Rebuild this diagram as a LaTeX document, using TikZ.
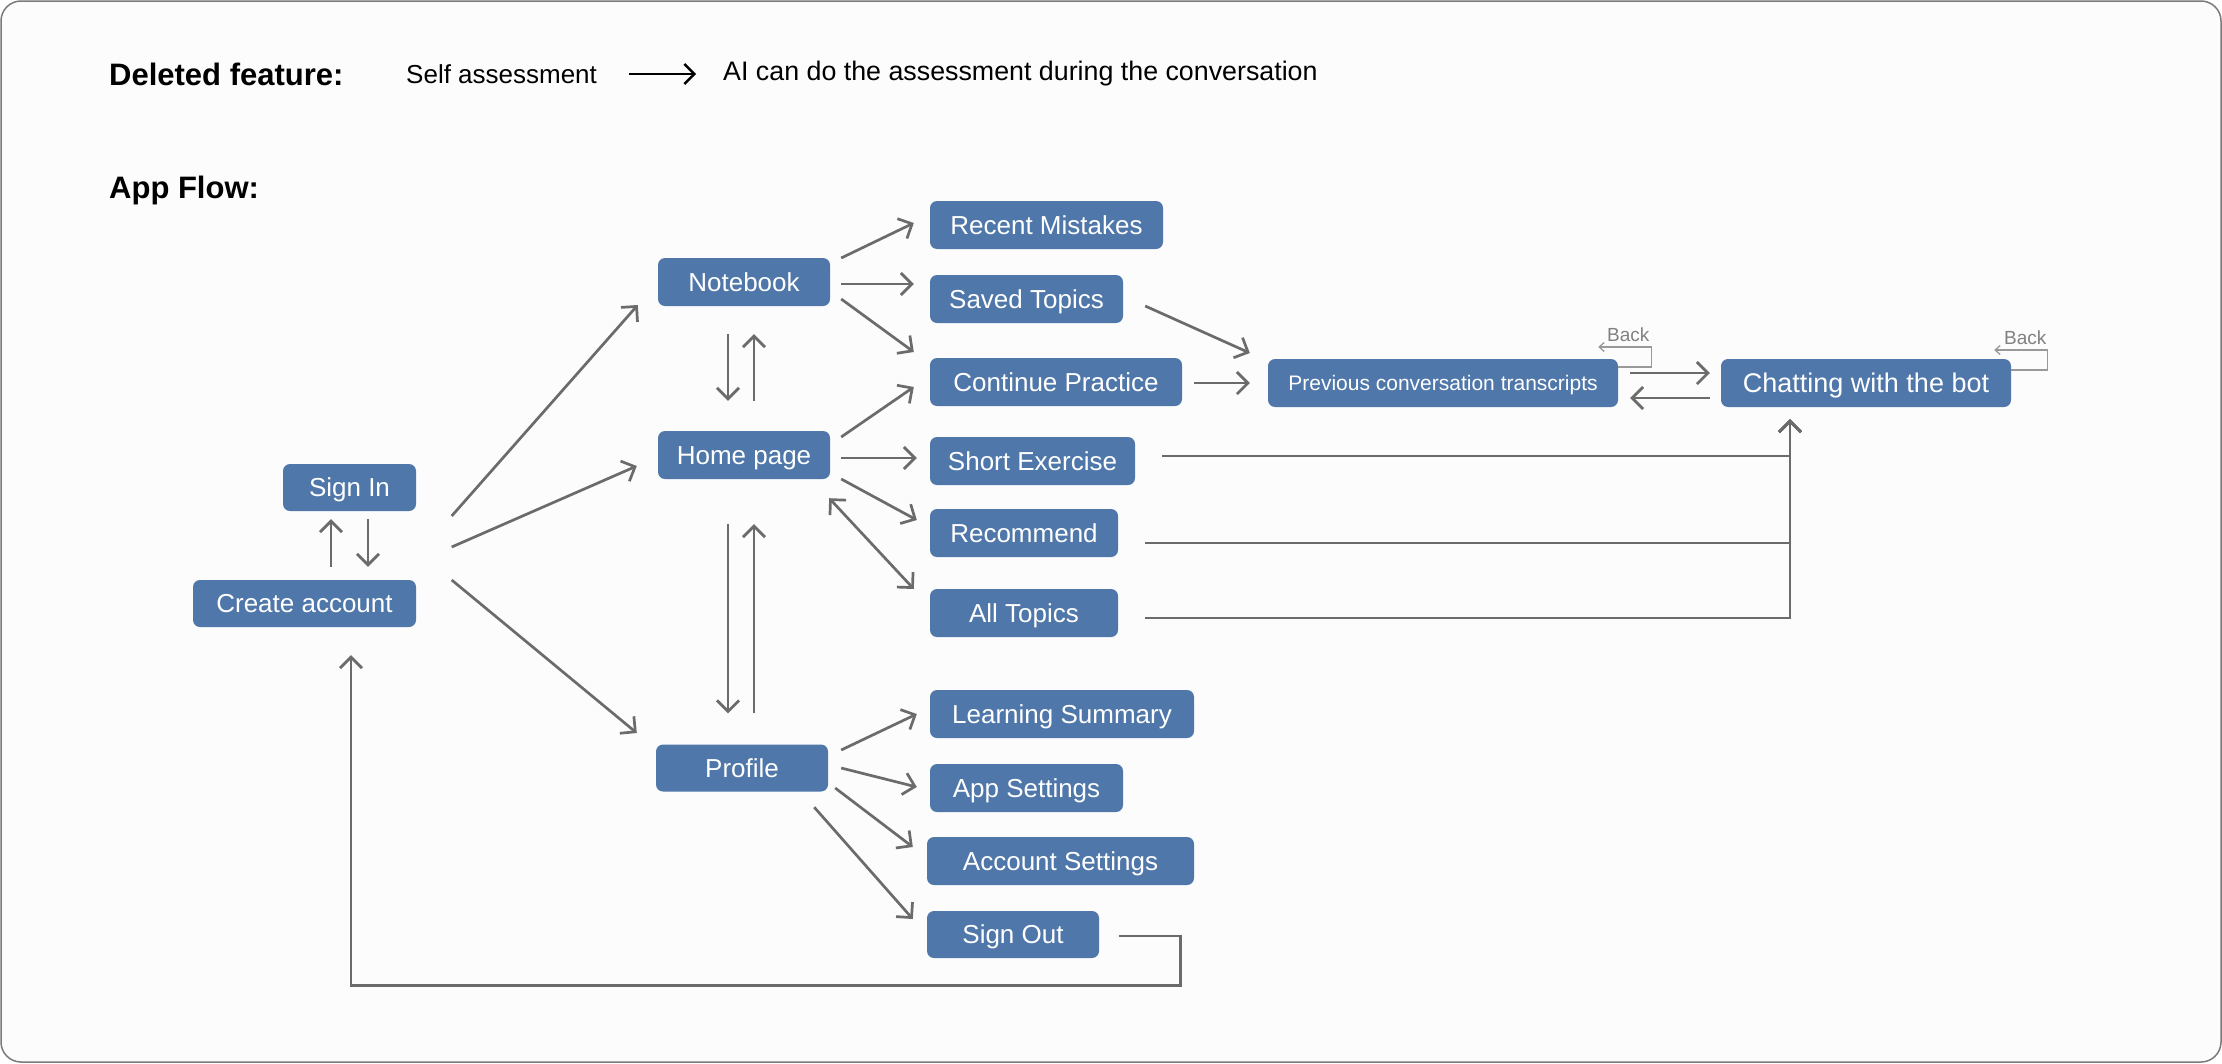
\documentclass[tikz,border=0pt]{standalone}
\usepackage{fontspec}
\setmainfont{Liberation Sans}
\usetikzlibrary{arrows.meta,calc}
\definecolor{boxblue}{HTML}{4F77A9}
\definecolor{linegray}{HTML}{6B6B6B}
\definecolor{backgray}{HTML}{999999}
\definecolor{framegray}{HTML}{7A7A7A}
\begin{document}
\begin{tikzpicture}[x=1pt,y=-1pt,
  box/.style={fill=boxblue, rounded corners=7pt, text=white, font=\fontsize{26}{30}\selectfont, minimum height=48pt, inner sep=0pt, text height=18.5pt, text depth=0pt},
  conn/.style={draw=linegray, line width=2.7pt, -{Straight Barb[length=11pt,width=22pt]}},
  dconn/.style={draw=linegray, line width=2.7pt, {Straight Barb[length=11pt,width=22pt]}-{Straight Barb[length=11pt,width=22pt]}},
  backline/.style={draw=backgray, line width=1.3pt, -{Straight Barb[length=5pt,width=9pt]}},
  backtext/.style={text=linegray!85, font=\fontsize{19}{22}\selectfont, inner sep=0pt},
  head/.style={font=\fontsize{31}{35}\selectfont\bfseries, anchor=west, inner sep=0pt},
  htext/.style={font=\fontsize{26}{30}\selectfont, anchor=west, inner sep=0pt}]
\useasboundingbox (0,0) rectangle (2222,1063);
\draw[framegray, line width=1.5pt, rounded corners=20pt, fill=white!99!black] (1,1) rectangle (2221,1062);

% header
\node[head] (del) at (109,74) {Deleted feature:};
\node[htext] (sa) at (406,74) {Self assessment};
\node[htext, font=\fontsize{26.8}{30}\selectfont] (ai) at (723,74) {AI can do the assessment during the conversation};
\draw[black, line width=2.4pt, -{Straight Barb[length=10pt,width=20pt]}, shorten <=32pt, shorten >=27pt] (sa.east) -- (ai.west);
\node[head] (flow) at (109,190) {App Flow:};

% nodes
\node[box, minimum width=133pt, minimum height=47pt] (sign) at (349.5,487.5) {Sign In};
\node[box, minimum width=223pt, minimum height=47pt] (ca) at (304.5,603.5) {Create account};
\node[box, minimum width=172pt] (nb) at (744,282) {Notebook};
\node[box, minimum width=172pt] (home) at (744,455) {Home page};
\node[box, minimum width=172pt, minimum height=47pt] (prof) at (742,768) {Profile};
\node[box, minimum width=233pt] (rm) at (1046.5,225) {Recent Mistakes};
\node[box, minimum width=193pt] (st) at (1026.5,299) {Saved Topics};
\node[box, minimum width=252pt] (cp) at (1056,382) {Continue Practice};
\node[box, minimum width=205pt] (se) at (1032.5,461) {Short Exercise};
\node[box, minimum width=188pt] (rec) at (1024,533) {Recommend};
\node[box, minimum width=188pt] (at) at (1024,613) {All Topics};
\node[box, minimum width=264pt] (ls) at (1062,714) {Learning Summary};
\node[box, minimum width=193pt] (aps) at (1026.5,788) {App Settings};
\node[box, minimum width=267pt] (acs) at (1060.5,861) {Account Settings};
\node[box, minimum width=172pt, minimum height=47pt] (so) at (1013,934.5) {Sign Out};
\node[box, minimum width=350pt, font=\fontsize{21}{25}\selectfont, text height=15pt] (prev) at (1443,383) {Previous conversation transcripts};
\node[box, minimum width=290pt, font=\fontsize{27}{31}\selectfont, text height=19pt] (chat) at (1866,383) {Chatting with the bot};

% sign in / create account
\draw[conn] ($(ca.north)+(26.5,-13)$) -- ($(sign.south)+(-18.5,8)$);
\draw[conn] ($(sign.south)+(18.5,8)$) -- ($(ca.north)+(63.5,-13)$);

% create account to main screens
\draw[conn] ($(ca.east)+(35.5,-87.5)$) -- ($(nb.west)+(-20,23)$);
\draw[conn] ($(ca.east)+(35.5,-56.5)$) -- ($(home.west)+(-21,11)$);
\draw[conn] ($(ca.east)+(35.5,-23.5)$) -- ($(prof.west)+(-19,-35)$);

% notebook
\draw[conn] ($(nb.east)+(11,-24)$) -- ($(rm.west)+(-16,-2)$);
\draw[conn] ($(nb.east)+(11,2)$) -- ($(st.west)+(-16,-15)$);
\draw[conn] ($(nb.east)+(11,17)$) -- ($(cp.west)+(-16,-30)$);
\draw[conn] ($(nb.south)+(-16,28)$) -- ($(home.north)+(-16,-30)$);
\draw[conn] ($(home.north)+(10,-30)$) -- ($(nb.south)+(10,28)$);

% home page
\draw[conn] ($(home.east)+(11,-18)$) -- ($(cp.west)+(-16,5)$);
\draw[conn] ($(home.east)+(11,3)$) -- ($(se.west)+(-13,-3)$);
\draw[conn] ($(home.east)+(11,24)$) -- ($(rec.west)+(-13,-13)$);
\draw[dconn] ($(home.south east)+(-1,19)$) -- ($(at.west)+(-16,-24)$);
\draw[conn] ($(home.south)+(-16,45)$) -- ($(prof.north)+(-14,-31)$);
\draw[conn] ($(prof.north)+(12,-31)$) -- ($(home.south)+(10,45)$);

% profile
\draw[conn] ($(prof.east)+(13,-18)$) -- ($(ls.west)+(-13,0)$);
\draw[conn] ($(prof.east)+(13,0)$) -- ($(aps.west)+(-13,-1)$);
\draw[conn] ($(prof.east)+(7,20)$) -- ($(acs.west)+(-14,-14)$);
\draw[conn] ($(prof.south east)+(-14,15.5)$) -- ($(so.west)+(-14,-15.5)$);

% to previous conversation transcripts
\draw[conn] ($(st.east)+(22,7)$) -- ($(prev.west)+(-18,-30)$);
\draw[conn] ($(cp.east)+(12,1)$) -- ($(prev.west)+(-18,0)$);

% prev <-> chat
\draw[conn] ($(prev.east)+(12,-10)$) -- ($(chat.west)+(-11,-10)$);
\draw[conn] ($(chat.west)+(-11,15)$) -- ($(prev.east)+(12,15)$);

% exercises to chat
\draw[conn] ($(se.east)+(27,-5)$) -| ($(chat.south)+(-76,12)$);
\draw[conn] ($(rec.east)+(27,10)$) -| ($(chat.south)+(-76,12)$);
\draw[conn] ($(at.east)+(27,5)$) -| ($(chat.south)+(-76,12)$);

% sign out back to create account
\draw[conn] ($(so.east)+(20,1.5)$) -- ++(61,0) -- ++(0,49.5) -| ($(ca.south)+(46.5,28)$);

% back loops
\draw[backline] ($(prev.east)+(0,-16)$) -- ++(33,0) -- ++(0,-20) -- ++(-53,0);
\node[backtext] (back1) at ($(prev.east)+(10,-48)$) {Back};
\draw[backline] ($(chat.east)+(0,-13)$) -- ++(36,0) -- ++(0,-20) -- ++(-53,0);
\node[backtext] (back2) at ($(chat.east)+(14,-45)$) {Back};
\end{tikzpicture}
\end{document}
